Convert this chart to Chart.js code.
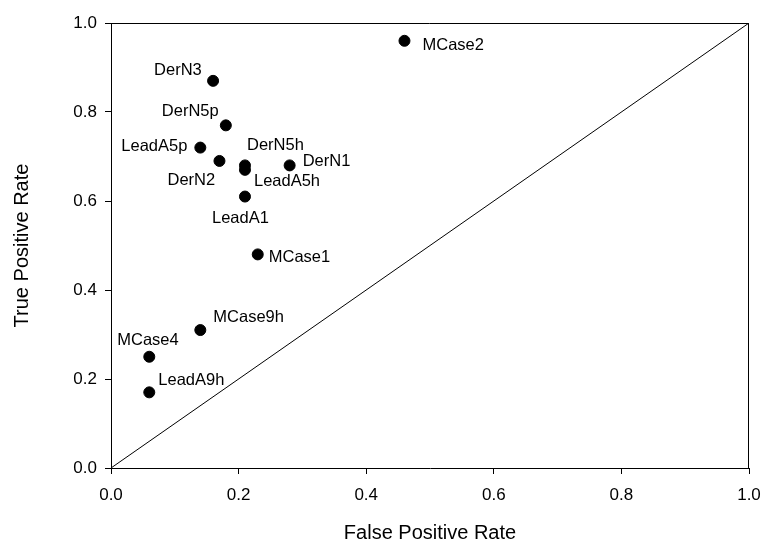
<!DOCTYPE html>
<html>
<head>
<meta charset="utf-8">
<script src="https://cdn.jsdelivr.net/npm/chart.js@4/dist/chart.umd.min.js"></script>
<style>
	html, body { margin: 0; padding: 0; background: #fff; }
	#wrap { width: 763px; height: 541px; }
</style>
</head>
<body>
<div id="wrap"><canvas id="roc"></canvas></div>
<script>
// ---- data ----
const names = ['MCase2', 'DerN3', 'DerN5p', 'LeadA5p', 'DerN2', 'DerN5h', 'LeadA5h', 'DerN1', 'LeadA1', 'MCase1', 'MCase9h', 'MCase4', 'LeadA9h'];
const falsePositive = [0.46, 0.16, 0.18, 0.14, 0.17, 0.21, 0.21, 0.28, 0.21, 0.23, 0.14, 0.06, 0.06];
const truePositive = [0.96, 0.87, 0.77, 0.72, 0.69, 0.68, 0.67, 0.68, 0.61, 0.48, 0.31, 0.25, 0.17];
const diagonalX = [0, 1];
const diagonalY = [0, 1];
const tickValues = [0, 0.2, 0.4, 0.6, 0.8, 1.0];

// label placement relative to each point: [dx to text left edge, dy to text middle]
const labelOffsets = [
	[18, 5], [-59, -10], [-64, -14], [-79, -1], [-52, 20], [2, -20], [9, 12],
	[13, -4], [-33, 22], [11, 3], [13, -13], [-32, -16], [9, -12],
];

const FONT = "'Liberation Sans', Arial, sans-serif";

const frameAndLabels = {
	id: 'frameAndLabels',
	afterDatasetsDraw(chart) {
		const { ctx, chartArea: a } = chart;
		ctx.save();
		// top + right sides of the box
		ctx.strokeStyle = '#000';
		ctx.lineWidth = 1;
		ctx.beginPath();
		ctx.moveTo(a.left, a.top + 0.5);
		ctx.lineTo(a.right - 0.5, a.top + 0.5);
		ctx.lineTo(a.right - 0.5, a.bottom);
		ctx.stroke();

		// point names
		const meta = chart.getDatasetMeta(1);
		ctx.fillStyle = '#000';
		ctx.font = `16.5px ${FONT}`;
		ctx.textAlign = 'left';
		ctx.textBaseline = 'middle';
		meta.data.forEach((pt, i) => {
			const [dx, dy] = labelOffsets[i];
			ctx.fillText(names[i], pt.x + dx, pt.y + dy);
		});
		ctx.restore();
	},
};

const axisCommon = {
	type: 'linear',
	min: 0,
	max: 1,
	afterBuildTicks: (scale) => {
		scale.ticks = tickValues.map((v) => ({ value: v }));
	},
	border: { display: true, color: '#000', width: 1 },
	grid: { display: true, drawOnChartArea: false, drawTicks: true, tickLength: 6, color: '#000', lineWidth: 1 },
};

new Chart(document.getElementById('roc'), {
	type: 'scatter',
	data: {
		datasets: [
			{
				type: 'line',
				data: diagonalX.map((x, i) => ({ x, y: diagonalY[i] })),
				borderColor: '#000',
				borderWidth: 1,
				pointRadius: 0,
				fill: false,
				order: 2,
			},
			{
				data: falsePositive.map((x, i) => ({ x, y: truePositive[i] })),
				backgroundColor: '#000',
				borderColor: '#000',
				pointRadius: 5.5,
				pointHoverRadius: 5.5,
				order: 1,
			},
		],
	},
	options: {
		responsive: true,
		maintainAspectRatio: false,
		animation: false,
		layout: { padding: { top: 23, right: 14, left: 0, bottom: 0 } },
		plugins: { legend: { display: false }, tooltip: { enabled: false } },
		scales: {
			x: {
				...axisCommon,
				afterFit: (scale) => {
					scale.height = 73;
					scale.paddingLeft = 0;
					scale.paddingRight = 0;
				},
				ticks: {
					color: '#000',
					font: { family: FONT, size: 17 },
					padding: 11,
					callback: (v) => Number(v).toFixed(1),
				},
				title: {
					display: true,
					text: 'False Positive Rate',
					color: '#000',
					font: { family: FONT, size: 20, lineHeight: 1.2 },
					padding: { top: 0, bottom: -4 },
				},
			},
			y: {
				...axisCommon,
				afterFit: (scale) => {
					scale.width = 111;
					scale.paddingTop = 0;
					scale.paddingBottom = 0;
				},
				ticks: {
					color: '#000',
					font: { family: FONT, size: 17 },
					padding: 8,
					callback: (v) => Number(v).toFixed(1),
				},
				title: {
					display: true,
					text: 'True Positive Rate',
					color: '#000',
					font: { family: FONT, size: 20, lineHeight: 1.2 },
					padding: { top: 10, bottom: 0 },
				},
			},
		},
	},
	plugins: [frameAndLabels],
});
</script>
</body>
</html>
